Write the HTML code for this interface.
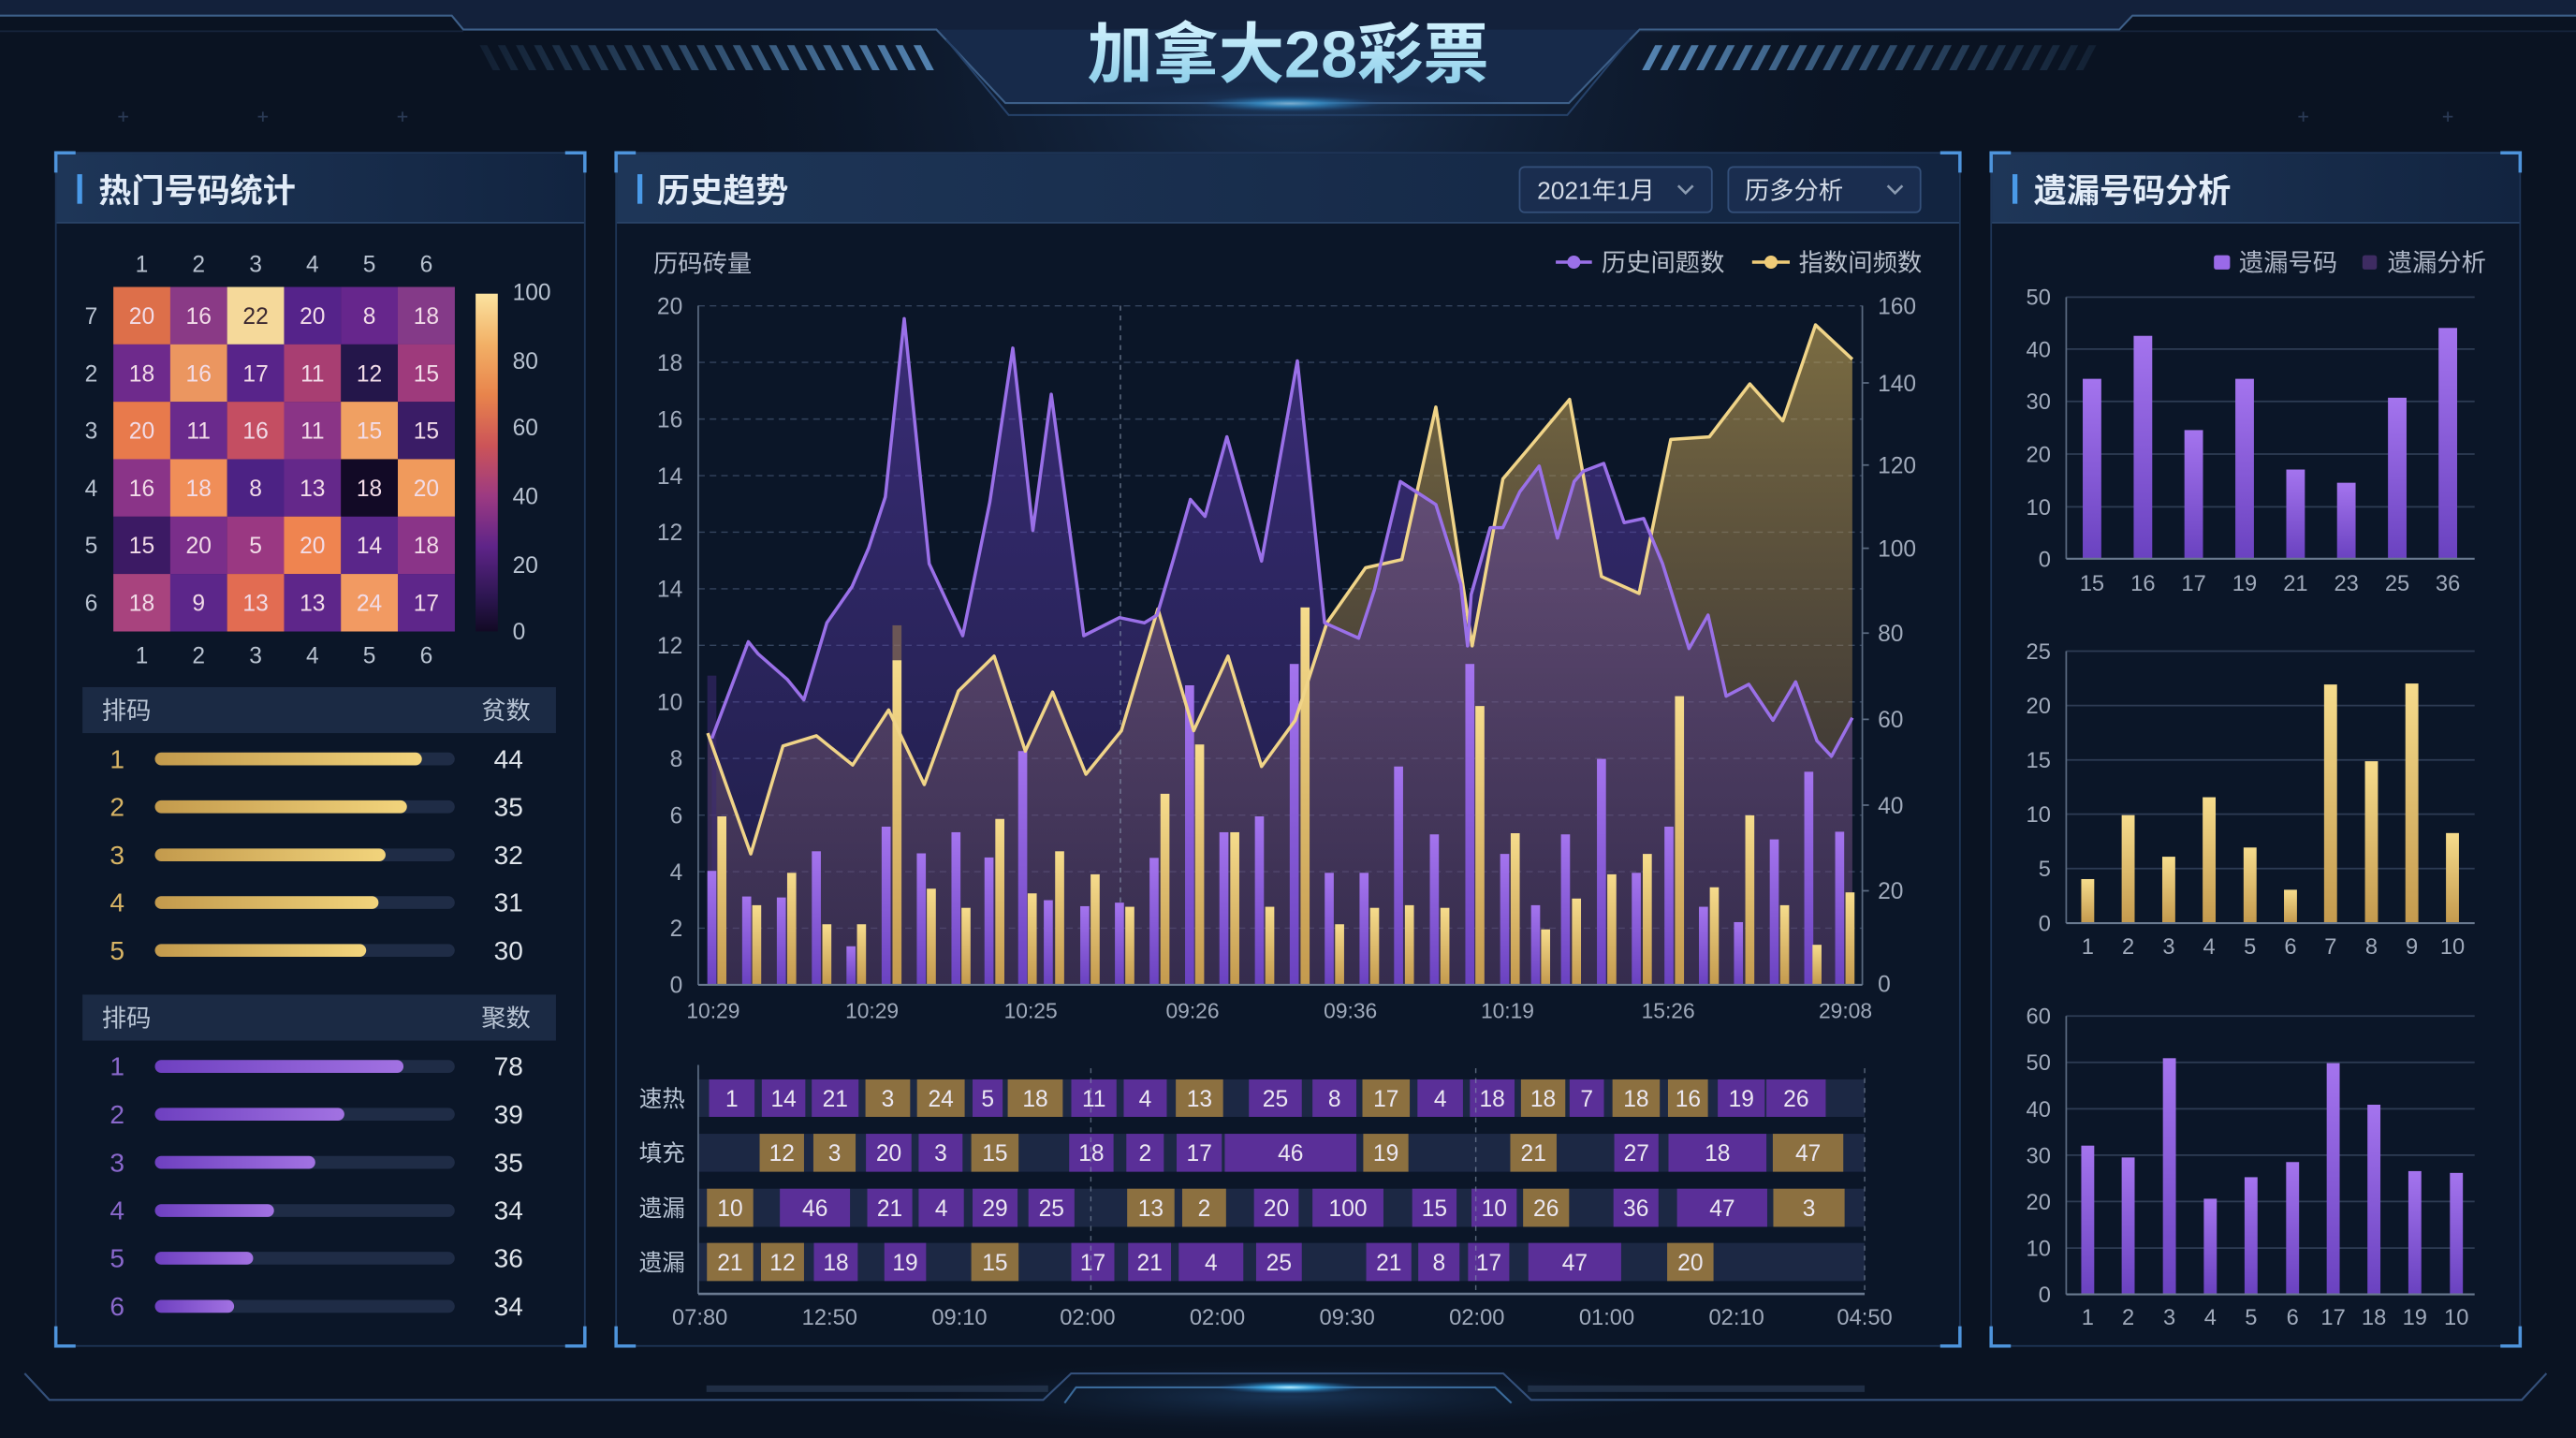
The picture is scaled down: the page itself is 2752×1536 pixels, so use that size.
<!DOCTYPE html>
<html><head><meta charset="utf-8">
<style>
html,body{margin:0;padding:0;background:#0a1322;width:2752px;height:1536px;overflow:hidden}
svg{display:block;position:absolute;left:0;top:0}
text{font-family:"Liberation Sans","Noto Sans CJK SC",sans-serif}
</style></head>
<body>
<svg width="2752" height="1536" viewBox="0 0 1568 875" preserveAspectRatio="none" xmlns="http://www.w3.org/2000/svg" overflow="hidden">
<defs>
  <radialGradient id="topGlow" cx="785" cy="30" r="420" gradientUnits="userSpaceOnUse">
    <stop offset="0" stop-color="#1d3558" stop-opacity="0.9"/>
    <stop offset="1" stop-color="#0a1322" stop-opacity="0"/>
  </radialGradient>
  <radialGradient id="cyanGlow">
    <stop offset="0" stop-color="#bff0ff"/>
    <stop offset="0.35" stop-color="#3fb4f0" stop-opacity="0.8"/>
    <stop offset="1" stop-color="#1a5a9a" stop-opacity="0"/>
  </radialGradient>
  <radialGradient id="softGlow">
    <stop offset="0" stop-color="#2a5a90" stop-opacity="0.45"/>
    <stop offset="1" stop-color="#0a1322" stop-opacity="0"/>
  </radialGradient>
  <linearGradient id="titleGrad" x1="0" y1="0" x2="0" y2="1">
    <stop offset="0" stop-color="#d6f4ff"/>
    <stop offset="1" stop-color="#86cbe8"/>
  </linearGradient>
  <linearGradient id="stripeL" x1="290" y1="0" x2="575" y2="0" gradientUnits="userSpaceOnUse">
    <stop offset="0" stop-color="#4a78a4" stop-opacity="0.12"/>
    <stop offset="1" stop-color="#5a8cbc" stop-opacity="0.95"/>
  </linearGradient>
  <linearGradient id="stripeR" x1="1280" y1="0" x2="995" y2="0" gradientUnits="userSpaceOnUse">
    <stop offset="0" stop-color="#4a78a4" stop-opacity="0.12"/>
    <stop offset="1" stop-color="#5a8cbc" stop-opacity="0.95"/>
  </linearGradient>
  <linearGradient id="barHead" x1="0" y1="0" x2="1" y2="0">
    <stop offset="0" stop-color="#1e3658"/>
    <stop offset="1" stop-color="#122440"/>
  </linearGradient>
  <linearGradient id="heatBar" x1="0" y1="0" x2="0" y2="1">
    <stop offset="0" stop-color="#fbe3a0"/>
    <stop offset="0.15" stop-color="#f2b066"/>
    <stop offset="0.3" stop-color="#e8844c"/>
    <stop offset="0.45" stop-color="#cc5458"/>
    <stop offset="0.6" stop-color="#9c3a82"/>
    <stop offset="0.75" stop-color="#5e2488"/>
    <stop offset="0.9" stop-color="#2c1650"/>
    <stop offset="1" stop-color="#120a24"/>
  </linearGradient>
  <linearGradient id="gHbar" x1="0" y1="0" x2="1" y2="0">
    <stop offset="0" stop-color="#c39a4c"/>
    <stop offset="1" stop-color="#f2d47c"/>
  </linearGradient>
  <linearGradient id="pHbar" x1="0" y1="0" x2="1" y2="0">
    <stop offset="0" stop-color="#6e40c0"/>
    <stop offset="1" stop-color="#a272e2"/>
  </linearGradient>
  <linearGradient id="gPB" x1="0" y1="0" x2="0" y2="1">
    <stop offset="0" stop-color="#a474ee"/>
    <stop offset="1" stop-color="#6a42c0"/>
  </linearGradient>
  <linearGradient id="gGB" x1="0" y1="0" x2="0" y2="1">
    <stop offset="0" stop-color="#f6dc8c"/>
    <stop offset="1" stop-color="#c49a4e"/>
  </linearGradient>
  <linearGradient id="gPF" x1="0" y1="186" x2="0" y2="599" gradientUnits="userSpaceOnUse">
    <stop offset="0" stop-color="#6a44c8" stop-opacity="0.5"/>
    <stop offset="1" stop-color="#4a3090" stop-opacity="0.3"/>
  </linearGradient>
  <linearGradient id="gGF" x1="0" y1="190" x2="0" y2="599" gradientUnits="userSpaceOnUse">
    <stop offset="0" stop-color="#c9a954" stop-opacity="0.6"/>
    <stop offset="1" stop-color="#7a5a48" stop-opacity="0.3"/>
  </linearGradient>
</defs>

<!-- background -->
<rect x="0" y="0" width="1568" height="875" fill="#0a1322"/>
<rect x="0" y="0" width="1568" height="300" fill="url(#topGlow)"/>
<ellipse cx="785" cy="850" rx="260" ry="24" fill="url(#softGlow)"/>

<!-- header -->
<polygon points="0,0 1568,0 1568,9.5 1298,9.5 1290,18 998,18 955,62.7 612,62.7 570,18 282,18 275,9.5 0,9.5" fill="#13213b"/>
<polygon points="570,18 998,18 955,62.7 612,62.7" fill="#172a4a"/>
<path d="M0,9.5 L275,9.5 L282,18 L570,18 L612,62.7 L955,62.7 L998,18 L1290,18 L1298,9.5 L1568,9.5" fill="none" stroke="#3d5f88" stroke-width="1.2"/>
<path d="M576,24 L614,70 L954,70 L992,24" fill="none" stroke="#26426a" stroke-width="1.2"/>
<path d="M0,19 L282,19" stroke="#16243c" stroke-width="1"/>
<path d="M998,19 L1568,19" stroke="#16243c" stroke-width="1"/>
<g fill="url(#stripeL)">
  <polygon points="292,27.5 296.5,27.5 304.5,42.7 300,42.7"/>
  <polygon points="303,27.5 307.5,27.5 315.5,42.7 311,42.7"/>
  <polygon points="314,27.5 318.5,27.5 326.5,42.7 322,42.7"/>
  <polygon points="325,27.5 329.5,27.5 337.5,42.7 333,42.7"/>
  <polygon points="336,27.5 340.5,27.5 348.5,42.7 344,42.7"/>
  <polygon points="347,27.5 351.5,27.5 359.5,42.7 355,42.7"/>
  <polygon points="358,27.5 362.5,27.5 370.5,42.7 366,42.7"/>
  <polygon points="369,27.5 373.5,27.5 381.5,42.7 377,42.7"/>
  <polygon points="380,27.5 384.5,27.5 392.5,42.7 388,42.7"/>
  <polygon points="391,27.5 395.5,27.5 403.5,42.7 399,42.7"/>
  <polygon points="402,27.5 406.5,27.5 414.5,42.7 410,42.7"/>
  <polygon points="413,27.5 417.5,27.5 425.5,42.7 421,42.7"/>
  <polygon points="424,27.5 428.5,27.5 436.5,42.7 432,42.7"/>
  <polygon points="435,27.5 439.5,27.5 447.5,42.7 443,42.7"/>
  <polygon points="446,27.5 450.5,27.5 458.5,42.7 454,42.7"/>
  <polygon points="457,27.5 461.5,27.5 469.5,42.7 465,42.7"/>
  <polygon points="468,27.5 472.5,27.5 480.5,42.7 476,42.7"/>
  <polygon points="479,27.5 483.5,27.5 491.5,42.7 487,42.7"/>
  <polygon points="490,27.5 494.5,27.5 502.5,42.7 498,42.7"/>
  <polygon points="501,27.5 505.5,27.5 513.5,42.7 509,42.7"/>
  <polygon points="512,27.5 516.5,27.5 524.5,42.7 520,42.7"/>
  <polygon points="523,27.5 527.5,27.5 535.5,42.7 531,42.7"/>
  <polygon points="534,27.5 538.5,27.5 546.5,42.7 542,42.7"/>
  <polygon points="545,27.5 549.5,27.5 557.5,42.7 553,42.7"/>
  <polygon points="556,27.5 560.5,27.5 568.5,42.7 564,42.7"/>
</g>
<g fill="url(#stripeR)">
  <polygon points="1007.5,27.5 1012,27.5 1004,42.7 999.5,42.7"/>
  <polygon points="1018.5,27.5 1023,27.5 1015,42.7 1010.5,42.7"/>
  <polygon points="1029.5,27.5 1034,27.5 1026,42.7 1021.5,42.7"/>
  <polygon points="1040.5,27.5 1045,27.5 1037,42.7 1032.5,42.7"/>
  <polygon points="1051.5,27.5 1056,27.5 1048,42.7 1043.5,42.7"/>
  <polygon points="1062.5,27.5 1067,27.5 1059,42.7 1054.5,42.7"/>
  <polygon points="1073.5,27.5 1078,27.5 1070,42.7 1065.5,42.7"/>
  <polygon points="1084.5,27.5 1089,27.5 1081,42.7 1076.5,42.7"/>
  <polygon points="1095.5,27.5 1100,27.5 1092,42.7 1087.5,42.7"/>
  <polygon points="1106.5,27.5 1111,27.5 1103,42.7 1098.5,42.7"/>
  <polygon points="1117.5,27.5 1122,27.5 1114,42.7 1109.5,42.7"/>
  <polygon points="1128.5,27.5 1133,27.5 1125,42.7 1120.5,42.7"/>
  <polygon points="1139.5,27.5 1144,27.5 1136,42.7 1131.5,42.7"/>
  <polygon points="1150.5,27.5 1155,27.5 1147,42.7 1142.5,42.7"/>
  <polygon points="1161.5,27.5 1166,27.5 1158,42.7 1153.5,42.7"/>
  <polygon points="1172.5,27.5 1177,27.5 1169,42.7 1164.5,42.7"/>
  <polygon points="1183.5,27.5 1188,27.5 1180,42.7 1175.5,42.7"/>
  <polygon points="1194.5,27.5 1199,27.5 1191,42.7 1186.5,42.7"/>
  <polygon points="1205.5,27.5 1210,27.5 1202,42.7 1197.5,42.7"/>
  <polygon points="1216.5,27.5 1221,27.5 1213,42.7 1208.5,42.7"/>
  <polygon points="1227.5,27.5 1232,27.5 1224,42.7 1219.5,42.7"/>
  <polygon points="1238.5,27.5 1243,27.5 1235,42.7 1230.5,42.7"/>
  <polygon points="1249.5,27.5 1254,27.5 1246,42.7 1241.5,42.7"/>
  <polygon points="1260.5,27.5 1265,27.5 1257,42.7 1252.5,42.7"/>
  <polygon points="1271.5,27.5 1276,27.5 1268,42.7 1263.5,42.7"/>
</g>
<ellipse cx="785" cy="63" rx="55" ry="5" fill="url(#cyanGlow)"/>
<ellipse cx="785" cy="63" rx="140" ry="14" fill="url(#softGlow)"/>
<text x="784" y="47" font-size="40" font-weight="bold" fill="url(#titleGrad)" text-anchor="middle">加拿大28彩票</text>
<g stroke="#2a3a55" stroke-width="1">
  <path d="M72,71 h6 M75,68 v6"/><path d="M157,71 h6 M160,68 v6"/><path d="M242,71 h6 M245,68 v6"/>
  <path d="M1399,71 h6 M1402,68 v6"/><path d="M1487,71 h6 M1490,68 v6"/>
</g>

<!-- panels -->
<g>
  <rect x="34" y="93" width="322" height="726" fill="#0b1628" stroke="#1f3658" stroke-width="1"/>
  <rect x="34.5" y="93.5" width="321" height="42" fill="url(#barHead)"/>
  <line x1="34.5" y1="135.5" x2="355.5" y2="135.5" stroke="#2a4468"/>
  <rect x="375" y="93" width="818" height="726" fill="#0b1628" stroke="#1f3658" stroke-width="1"/>
  <rect x="375.5" y="93.5" width="817" height="42" fill="url(#barHead)"/>
  <line x1="375.5" y1="135.5" x2="1192.5" y2="135.5" stroke="#2a4468"/>
  <rect x="1212" y="93" width="322" height="726" fill="#0b1628" stroke="#1f3658" stroke-width="1"/>
  <rect x="1212.5" y="93.5" width="321" height="42" fill="url(#barHead)"/>
  <line x1="1212.5" y1="135.5" x2="1533.5" y2="135.5" stroke="#2a4468"/>
  <g fill="none" stroke="#4e94dc" stroke-width="2">
    <path d="M34,105 V93 H46 M344,93 H356 V105 M34,807 V819 H46 M344,819 H356 V807"/>
    <path d="M375,105 V93 H387 M1181,93 H1193 V105 M375,807 V819 H387 M1181,819 H1193 V807"/>
    <path d="M1212,105 V93 H1224 M1522,93 H1534 V105 M1212,807 V819 H1224 M1522,819 H1534 V807"/>
  </g>
  <rect x="47" y="106" width="3" height="18" fill="#4a9ae8"/>
  <rect x="388" y="106" width="3" height="18" fill="#4a9ae8"/>
  <rect x="1225" y="106" width="3" height="18" fill="#4a9ae8"/>
  <text x="60" y="123" font-size="20" font-weight="bold" fill="#e2ecf8">热门号码统计</text>
  <text x="400" y="123" font-size="20" font-weight="bold" fill="#e2ecf8">历史趋势</text>
  <text x="1238" y="123" font-size="20" font-weight="bold" fill="#e2ecf8">遗漏号码分析</text>
  <!-- dropdowns -->
  <rect x="925" y="101.6" width="117" height="27.6" rx="3" fill="#1a2d4f" stroke="#34507a"/>
  <text x="935.6" y="121" font-size="15" fill="#d4dce8">2021年1月</text>
  <path d="M1021.5,113 L1026,117.5 L1030.5,113" fill="none" stroke="#8a9ab0" stroke-width="1.5"/>
  <rect x="1052" y="101.6" width="117" height="27.6" rx="3" fill="#1a2d4f" stroke="#34507a"/>
  <text x="1062" y="121" font-size="15" fill="#d4dce8">历多分析</text>
  <path d="M1149,113 L1153.5,117.5 L1158,113" fill="none" stroke="#8a9ab0" stroke-width="1.5"/>
</g>

<!-- heatmap -->
<g font-size="14" fill="#b8c2d0" text-anchor="middle">
  <text x="86.3" y="165.5">1</text><text x="120.9" y="165.5">2</text><text x="155.6" y="165.5">3</text><text x="190.2" y="165.5">4</text><text x="224.8" y="165.5">5</text><text x="259.5" y="165.5">6</text>
  <text x="86.3" y="403.5">1</text><text x="120.9" y="403.5">2</text><text x="155.6" y="403.5">3</text><text x="190.2" y="403.5">4</text><text x="224.8" y="403.5">5</text><text x="259.5" y="403.5">6</text>
  <text x="55.5" y="197.1">7</text><text x="55.5" y="232">2</text><text x="55.5" y="266.9">3</text><text x="55.5" y="301.9">4</text><text x="55.5" y="336.8">5</text><text x="55.5" y="371.7">6</text>
</g>
<g>
  <rect x="69" y="174.6" width="34.7" height="35" fill="#dd6f4a"/>
  <rect x="103.63" y="174.6" width="34.7" height="35" fill="#8a3a86"/>
  <rect x="138.26" y="174.6" width="34.7" height="35" fill="#f5d99a"/>
  <rect x="172.89" y="174.6" width="34.7" height="35" fill="#55238a"/>
  <rect x="207.52" y="174.6" width="34.7" height="35" fill="#66268c"/>
  <rect x="242.15" y="174.6" width="34.7" height="35" fill="#843a88"/>

  <rect x="69" y="209.53" width="34.7" height="35" fill="#6e2a8c"/>
  <rect x="103.63" y="209.53" width="34.7" height="35" fill="#eb9660"/>
  <rect x="138.26" y="209.53" width="34.7" height="35" fill="#58248a"/>
  <rect x="172.89" y="209.53" width="34.7" height="35" fill="#a83e72"/>
  <rect x="207.52" y="209.53" width="34.7" height="35" fill="#24164a"/>
  <rect x="242.15" y="209.53" width="34.7" height="35" fill="#9e3a7c"/>

  <rect x="69" y="244.46" width="34.7" height="35" fill="#e87a4c"/>
  <rect x="103.63" y="244.46" width="34.7" height="35" fill="#6a2a8c"/>
  <rect x="138.26" y="244.46" width="34.7" height="35" fill="#c44e62"/>
  <rect x="172.89" y="244.46" width="34.7" height="35" fill="#8a3486"/>
  <rect x="207.52" y="244.46" width="34.7" height="35" fill="#f0a062"/>
  <rect x="242.15" y="244.46" width="34.7" height="35" fill="#3a1c66"/>

  <rect x="69" y="279.39" width="34.7" height="35" fill="#8a3488"/>
  <rect x="103.63" y="279.39" width="34.7" height="35" fill="#f08e58"/>
  <rect x="138.26" y="279.39" width="34.7" height="35" fill="#4c2284"/>
  <rect x="172.89" y="279.39" width="34.7" height="35" fill="#64288a"/>
  <rect x="207.52" y="279.39" width="34.7" height="35" fill="#120a26"/>
  <rect x="242.15" y="279.39" width="34.7" height="35" fill="#f09a5c"/>

  <rect x="69" y="314.32" width="34.7" height="35" fill="#3c1a64"/>
  <rect x="103.63" y="314.32" width="34.7" height="35" fill="#7a2e8a"/>
  <rect x="138.26" y="314.32" width="34.7" height="35" fill="#9a3882"/>
  <rect x="172.89" y="314.32" width="34.7" height="35" fill="#ef8450"/>
  <rect x="207.52" y="314.32" width="34.7" height="35" fill="#5a268a"/>
  <rect x="242.15" y="314.32" width="34.7" height="35" fill="#8a3488"/>

  <rect x="69" y="349.25" width="34.7" height="35" fill="#a8437e"/>
  <rect x="103.63" y="349.25" width="34.7" height="35" fill="#5c268a"/>
  <rect x="138.26" y="349.25" width="34.7" height="35" fill="#e26c52"/>
  <rect x="172.89" y="349.25" width="34.7" height="35" fill="#5e268a"/>
  <rect x="207.52" y="349.25" width="34.7" height="35" fill="#f29a62"/>
  <rect x="242.15" y="349.25" width="34.7" height="35" fill="#5e268a"/>
</g>
<g font-size="14" fill="#f2dce8" text-anchor="middle">
  <text x="86.3" y="197.1">20</text><text x="120.9" y="197.1">16</text><text x="155.6" y="197.1" fill="#3a2830">22</text><text x="190.2" y="197.1">20</text><text x="224.8" y="197.1">8</text><text x="259.5" y="197.1">18</text>
  <text x="86.3" y="232">18</text><text x="120.9" y="232">16</text><text x="155.6" y="232">17</text><text x="190.2" y="232">11</text><text x="224.8" y="232">12</text><text x="259.5" y="232">15</text>
  <text x="86.3" y="266.9">20</text><text x="120.9" y="266.9">11</text><text x="155.6" y="266.9">16</text><text x="190.2" y="266.9">11</text><text x="224.8" y="266.9">15</text><text x="259.5" y="266.9">15</text>
  <text x="86.3" y="301.9">16</text><text x="120.9" y="301.9">18</text><text x="155.6" y="301.9">8</text><text x="190.2" y="301.9">13</text><text x="224.8" y="301.9">18</text><text x="259.5" y="301.9">20</text>
  <text x="86.3" y="336.8">15</text><text x="120.9" y="336.8">20</text><text x="155.6" y="336.8">5</text><text x="190.2" y="336.8">20</text><text x="224.8" y="336.8">14</text><text x="259.5" y="336.8">18</text>
  <text x="86.3" y="371.7">18</text><text x="120.9" y="371.7">9</text><text x="155.6" y="371.7">13</text><text x="190.2" y="371.7">13</text><text x="224.8" y="371.7">24</text><text x="259.5" y="371.7">17</text>
</g>
<rect x="289.5" y="178.7" width="13.5" height="205.5" fill="url(#heatBar)"/>
<g font-size="14" fill="#b8c2d0">
  <text x="312" y="182.7">100</text><text x="312" y="224.4">80</text><text x="312" y="265">60</text><text x="312" y="306.8">40</text><text x="312" y="348.5">20</text><text x="312" y="389.2">0</text>
</g>

<!-- left lists -->
<rect x="50.2" y="418.1" width="288.2" height="28" fill="#1b2a44"/>
<text x="62" y="437.5" font-size="15" fill="#b8c4d4">排码</text>
<text x="293" y="437.5" font-size="15" fill="#b8c4d4">贫数</text>
<g font-size="16" text-anchor="middle">
  <text x="71.3" y="467.3" fill="#d9b565">1</text>
  <text x="71.3" y="496.4" fill="#d9b565">2</text>
  <text x="71.3" y="525.7" fill="#d9b565">3</text>
  <text x="71.3" y="554.7" fill="#d9b565">4</text>
  <text x="71.3" y="583.8" fill="#d9b565">5</text>
  <text x="309.5" y="467.3" fill="#dfe4ea">44</text>
  <text x="309.5" y="496.4" fill="#dfe4ea">35</text>
  <text x="309.5" y="525.7" fill="#dfe4ea">32</text>
  <text x="309.5" y="554.7" fill="#dfe4ea">31</text>
  <text x="309.5" y="583.8" fill="#dfe4ea">30</text>
</g>
<g fill="#1f2c46">
  <rect x="94.3" y="457.9" width="182.5" height="7.8" rx="3.9"/>
  <rect x="94.3" y="487" width="182.5" height="7.8" rx="3.9"/>
  <rect x="94.3" y="516.3" width="182.5" height="7.8" rx="3.9"/>
  <rect x="94.3" y="545.3" width="182.5" height="7.8" rx="3.9"/>
  <rect x="94.3" y="574.4" width="182.5" height="7.8" rx="3.9"/>
</g>
<g fill="url(#gHbar)">
  <rect x="94.3" y="457.9" width="162.5" height="7.8" rx="3.9"/>
  <rect x="94.3" y="487" width="153.4" height="7.8" rx="3.9"/>
  <rect x="94.3" y="516.3" width="140.4" height="7.8" rx="3.9"/>
  <rect x="94.3" y="545.3" width="136.1" height="7.8" rx="3.9"/>
  <rect x="94.3" y="574.4" width="128.6" height="7.8" rx="3.9"/>
</g>

<rect x="50.2" y="605.2" width="288.2" height="28" fill="#1b2a44"/>
<text x="62" y="624.6" font-size="15" fill="#b8c4d4">排码</text>
<text x="293" y="624.6" font-size="15" fill="#b8c4d4">聚数</text>
<g font-size="16" text-anchor="middle">
  <text x="71.3" y="654.4" fill="#8a68cc">1</text>
  <text x="71.3" y="683.5" fill="#8a68cc">2</text>
  <text x="71.3" y="712.8" fill="#8a68cc">3</text>
  <text x="71.3" y="742.1" fill="#8a68cc">4</text>
  <text x="71.3" y="771.1" fill="#8a68cc">5</text>
  <text x="71.3" y="800.4" fill="#8a68cc">6</text>
  <text x="309.5" y="654.4" fill="#dfe4ea">78</text>
  <text x="309.5" y="683.5" fill="#dfe4ea">39</text>
  <text x="309.5" y="712.8" fill="#dfe4ea">35</text>
  <text x="309.5" y="742.1" fill="#dfe4ea">34</text>
  <text x="309.5" y="771.1" fill="#dfe4ea">36</text>
  <text x="309.5" y="800.4" fill="#dfe4ea">34</text>
</g>
<g fill="#1f2c46">
  <rect x="94.3" y="645" width="182.5" height="7.8" rx="3.9"/>
  <rect x="94.3" y="674.1" width="182.5" height="7.8" rx="3.9"/>
  <rect x="94.3" y="703.4" width="182.5" height="7.8" rx="3.9"/>
  <rect x="94.3" y="732.7" width="182.5" height="7.8" rx="3.9"/>
  <rect x="94.3" y="761.7" width="182.5" height="7.8" rx="3.9"/>
  <rect x="94.3" y="791" width="182.5" height="7.8" rx="3.9"/>
</g>
<g fill="url(#pHbar)">
  <rect x="94.3" y="645" width="151.3" height="7.8" rx="3.9"/>
  <rect x="94.3" y="674.1" width="115.3" height="7.8" rx="3.9"/>
  <rect x="94.3" y="703.4" width="97.6" height="7.8" rx="3.9"/>
  <rect x="94.3" y="732.7" width="72.5" height="7.8" rx="3.9"/>
  <rect x="94.3" y="761.7" width="59.8" height="7.8" rx="3.9"/>
  <rect x="94.3" y="791" width="48.2" height="7.8" rx="3.9"/>
</g>

<!-- center chart -->
<text x="397.7" y="165.5" font-size="15" fill="#b0b8c8">历码砖量</text>
<line x1="947" y1="159.5" x2="969" y2="159.5" stroke="#9a70e8" stroke-width="2"/>
<circle cx="958" cy="159.5" r="4" fill="#9a70e8"/>
<text x="974.8" y="165" font-size="15" fill="#b8c0cc">历史间题数</text>
<line x1="1066.5" y1="159.5" x2="1089.4" y2="159.5" stroke="#f0cc78" stroke-width="2"/>
<circle cx="1078" cy="159.5" r="4" fill="#f0cc78"/>
<text x="1094.9" y="165" font-size="15" fill="#b8c0cc">指数间频数</text>

<g stroke="#34445e" stroke-width="0.8" stroke-dasharray="4 3">
  <line x1="425" y1="186.1" x2="1133.6" y2="186.1"/>
  <line x1="425" y1="220.5" x2="1133.6" y2="220.5"/>
  <line x1="425" y1="255" x2="1133.6" y2="255"/>
  <line x1="425" y1="289.4" x2="1133.6" y2="289.4"/>
  <line x1="425" y1="323.8" x2="1133.6" y2="323.8"/>
  <line x1="425" y1="358.3" x2="1133.6" y2="358.3"/>
  <line x1="425" y1="392.7" x2="1133.6" y2="392.7"/>
  <line x1="425" y1="427.1" x2="1133.6" y2="427.1"/>
  <line x1="425" y1="461.5" x2="1133.6" y2="461.5"/>
  <line x1="425" y1="496" x2="1133.6" y2="496"/>
  <line x1="425" y1="530.4" x2="1133.6" y2="530.4"/>
  <line x1="425" y1="564.8" x2="1133.6" y2="564.8"/>
</g>
<g font-size="14" fill="#a0aabb" text-anchor="end">
  <text x="415.5" y="191.1">20</text><text x="415.5" y="225.5">18</text><text x="415.5" y="260">16</text><text x="415.5" y="294.4">14</text><text x="415.5" y="328.8">12</text><text x="415.5" y="363.3">14</text><text x="415.5" y="397.7">12</text><text x="415.5" y="432.1">10</text><text x="415.5" y="466.5">8</text><text x="415.5" y="501">6</text><text x="415.5" y="535.4">4</text><text x="415.5" y="569.8">2</text><text x="415.5" y="604.2">0</text>
</g>
<g font-size="14" fill="#a0aabb">
  <text x="1143" y="191.1">160</text><text x="1143" y="238">140</text><text x="1143" y="288">120</text><text x="1143" y="338.6">100</text><text x="1143" y="390.2">80</text><text x="1143" y="442.7">60</text><text x="1143" y="494.9">40</text><text x="1143" y="547">20</text><text x="1143" y="603.6">0</text>
</g>
<g stroke="#5a6a80" stroke-width="1">
  <path d="M1133.6,233 h4 M1133.6,283 h4 M1133.6,333.6 h4 M1133.6,385.2 h4 M1133.6,437.7 h4 M1133.6,489.9 h4 M1133.6,542 h4"/>
</g>

<polygon fill="url(#gGF)" points="430.8,446.1 457,519.6 476.6,453.9 496.9,447.7 519,465.5 540.9,432 562.6,477.4 583.4,420.5 605.1,399.25 624.1,457 640.7,421.1 661,471.1 682.6,444.6 704.8,370.5 726.6,444.6 747.5,399.25 767.9,466.4 788.4,438.3 807.7,379 831.2,345.5 853.3,340.5 874,247.7 896.1,393 914.8,291.4 932,271.1 955.4,243 974.8,350.8 997.7,361.1 1017,267.4 1040.5,265.8 1065.1,233.6 1085.2,256.1 1105.1,197.7 1127.5,218.6 1127.5,599.25 430.8,599.25"/>
<polygon fill="url(#gPF)" points="433.3,449.3 455.5,390.5 461.3,397.7 479.1,413.3 489.3,425.8 503.3,379 518.6,357 528.7,333.6 538.9,302.4 550.4,193.9 565.6,343 586,386.8 602.5,305.5 616.5,211.8 628.7,322.7 639.9,239.9 659.7,386.8 681.4,375.8 696.6,379 704.3,374.3 714.4,339.9 724.6,303.9 733.5,314.2 746.8,265.8 767.9,341.4 789.7,219.6 806.3,379 827,388.3 836.7,358.6 852.4,293 874,307 889.2,355.5 893.3,393 895.5,361.75 907.1,321.1 914.8,321.1 925.1,299.25 936.9,283.6 948,327.4 958.2,293 963.7,286.75 976.2,282 988.6,318 1000.5,315.5 1012,343 1028.1,394.6 1039.7,374.25 1050.7,423.6 1064.5,416.4 1079.2,438.3 1093,414.9 1106,450.8 1114.8,460.2 1127.5,436.75 1127.5,599.25 433.3,599.25"/>

<line x1="682" y1="186" x2="682" y2="599" stroke="#8a9ab0" stroke-width="0.8" stroke-dasharray="3 3" opacity="0.7"/>

<rect x="430.55" y="411.1" width="5.5" height="118.8" fill="#3a2a70" opacity="0.6"/>
<rect x="543.25" y="380.5" width="5.5" height="21.25" fill="#a08050" opacity="0.55"/>
<g fill="url(#gPB)">
  <rect x="430.55" y="529.9" width="5.5" height="69.35"/>
  <rect x="451.75" y="545.5" width="5.5" height="53.75"/>
  <rect x="472.85" y="546.1" width="5.5" height="53.15"/>
  <rect x="494.15" y="518" width="5.5" height="81.25"/>
  <rect x="515.25" y="575.8" width="5.5" height="23.45"/>
  <rect x="536.65" y="503" width="5.5" height="96.25"/>
  <rect x="558.05" y="519.25" width="5.5" height="80"/>
  <rect x="579.15" y="506.4" width="5.5" height="92.85"/>
  <rect x="599.25" y="521.75" width="5.5" height="77.5"/>
  <rect x="619.75" y="457" width="5.5" height="142.25"/>
  <rect x="635.35" y="547.75" width="5.5" height="51.5"/>
  <rect x="657.55" y="551.4" width="5.5" height="47.85"/>
  <rect x="678.65" y="549.25" width="5.5" height="50"/>
  <rect x="699.75" y="522" width="5.5" height="77.25"/>
  <rect x="721.35" y="417" width="5.5" height="182.25"/>
  <rect x="742.25" y="506.4" width="5.5" height="92.85"/>
  <rect x="763.85" y="496.75" width="5.5" height="102.5"/>
  <rect x="785.05" y="404" width="5.5" height="195.25"/>
  <rect x="806.35" y="531.1" width="5.5" height="68.15"/>
  <rect x="827.55" y="531.1" width="5.5" height="68.15"/>
  <rect x="848.55" y="466.4" width="5.5" height="132.85"/>
  <rect x="870.35" y="507.7" width="5.5" height="91.55"/>
  <rect x="891.95" y="404" width="5.5" height="195.25"/>
  <rect x="913.15" y="519.6" width="5.5" height="79.65"/>
  <rect x="931.95" y="550.8" width="5.5" height="48.45"/>
  <rect x="950.15" y="507.7" width="5.5" height="91.55"/>
  <rect x="972.05" y="461.75" width="5.5" height="137.5"/>
  <rect x="993.25" y="531.1" width="5.5" height="68.15"/>
  <rect x="1013.15" y="503" width="5.5" height="96.25"/>
  <rect x="1034.15" y="551.75" width="5.5" height="47.5"/>
  <rect x="1055.45" y="561.1" width="5.5" height="38.15"/>
  <rect x="1077.25" y="510.75" width="5.5" height="88.5"/>
  <rect x="1098.25" y="469.6" width="5.5" height="129.65"/>
  <rect x="1117.05" y="506.1" width="5.5" height="93.15"/>
</g>
<g fill="url(#gGB)">
  <rect x="436.65" y="496.75" width="5.5" height="102.5"/>
  <rect x="457.85" y="550.8" width="5.5" height="48.45"/>
  <rect x="479.15" y="531.1" width="5.5" height="68.15"/>
  <rect x="500.55" y="562.4" width="5.5" height="36.85"/>
  <rect x="521.65" y="562.4" width="5.5" height="36.85"/>
  <rect x="543.25" y="401.75" width="5.5" height="197.5"/>
  <rect x="564.15" y="540.75" width="5.5" height="58.5"/>
  <rect x="585.25" y="552.4" width="5.5" height="46.85"/>
  <rect x="605.85" y="498.3" width="5.5" height="100.95"/>
  <rect x="625.55" y="543.6" width="5.5" height="55.65"/>
  <rect x="642.25" y="518" width="5.5" height="81.25"/>
  <rect x="663.85" y="532" width="5.5" height="67.25"/>
  <rect x="684.95" y="551.75" width="5.5" height="47.5"/>
  <rect x="706.35" y="483" width="5.5" height="116.25"/>
  <rect x="727.45" y="453" width="5.5" height="146.25"/>
  <rect x="748.85" y="506.4" width="5.5" height="92.85"/>
  <rect x="770.15" y="551.75" width="5.5" height="47.5"/>
  <rect x="791.65" y="369.6" width="5.5" height="229.65"/>
  <rect x="812.65" y="562.4" width="5.5" height="36.85"/>
  <rect x="833.95" y="552.4" width="5.5" height="46.85"/>
  <rect x="855.15" y="550.8" width="5.5" height="48.45"/>
  <rect x="876.75" y="552.4" width="5.5" height="46.85"/>
  <rect x="898.05" y="429.6" width="5.5" height="169.65"/>
  <rect x="919.55" y="507" width="5.5" height="92.25"/>
  <rect x="938.05" y="565.5" width="5.5" height="33.75"/>
  <rect x="956.85" y="546.75" width="5.5" height="52.5"/>
  <rect x="978.35" y="532" width="5.5" height="67.25"/>
  <rect x="999.95" y="519.6" width="5.5" height="79.65"/>
  <rect x="1019.55" y="423.6" width="5.5" height="175.65"/>
  <rect x="1040.75" y="539.9" width="5.5" height="59.35"/>
  <rect x="1062.35" y="496.1" width="5.5" height="103.15"/>
  <rect x="1083.55" y="550.8" width="5.5" height="48.45"/>
  <rect x="1103.25" y="574.9" width="5.5" height="24.35"/>
  <rect x="1123.35" y="543" width="5.5" height="56.25"/>
</g>

<polyline fill="none" stroke="#f0d488" stroke-width="2" stroke-linejoin="round" points="430.8,446.1 457,519.6 476.6,453.9 496.9,447.7 519,465.5 540.9,432 562.6,477.4 583.4,420.5 605.1,399.25 624.1,457 640.7,421.1 661,471.1 682.6,444.6 704.8,370.5 726.6,444.6 747.5,399.25 767.9,466.4 788.4,438.3 807.7,379 831.2,345.5 853.3,340.5 874,247.7 896.1,393 914.8,291.4 932,271.1 955.4,243 974.8,350.8 997.7,361.1 1017,267.4 1040.5,265.8 1065.1,233.6 1085.2,256.1 1105.1,197.7 1127.5,218.6"/>
<polyline fill="none" stroke="#9a70e8" stroke-width="2" stroke-linejoin="round" points="433.3,449.3 455.5,390.5 461.3,397.7 479.1,413.3 489.3,425.8 503.3,379 518.6,357 528.7,333.6 538.9,302.4 550.4,193.9 565.6,343 586,386.8 602.5,305.5 616.5,211.8 628.7,322.7 639.9,239.9 659.7,386.8 681.4,375.8 696.6,379 704.3,374.3 714.4,339.9 724.6,303.9 733.5,314.2 746.8,265.8 767.9,341.4 789.7,219.6 806.3,379 827,388.3 836.7,358.6 852.4,293 874,307 889.2,355.5 893.3,393 895.5,361.75 907.1,321.1 914.8,321.1 925.1,299.25 936.9,283.6 948,327.4 958.2,293 963.7,286.75 976.2,282 988.6,318 1000.5,315.5 1012,343 1028.1,394.6 1039.7,374.25 1050.7,423.6 1064.5,416.4 1079.2,438.3 1093,414.9 1106,450.8 1114.8,460.2 1127.5,436.75"/>

<line x1="425" y1="186" x2="425" y2="599.25" stroke="#5a6a80" stroke-width="1"/>
<line x1="1133.6" y1="186" x2="1133.6" y2="599.25" stroke="#5a6a80" stroke-width="1"/>
<line x1="425" y1="599.25" x2="1133.6" y2="599.25" stroke="#6a7a90" stroke-width="1.2"/>
<g font-size="13" fill="#a0aabb" text-anchor="middle">
  <text x="434.1" y="619.5">10:29</text><text x="530.8" y="619.5">10:29</text><text x="627.4" y="619.5">10:25</text><text x="725.9" y="619.5">09:26</text><text x="822" y="619.5">09:36</text><text x="917.6" y="619.5">10:19</text><text x="1015.4" y="619.5">15:26</text><text x="1123.3" y="619.5">29:08</text>
</g>

<!-- table -->
<g fill="#1c2844">
  <rect x="425" y="656.8" width="710" height="22.8"/>
  <rect x="425" y="689.9" width="710" height="23.1"/>
  <rect x="425" y="723.3" width="710" height="23.2"/>
  <rect x="425" y="756.3" width="710" height="23.2"/>
</g>
<g font-size="14" fill="#b8c4d4" text-anchor="middle">
  <text x="403" y="673.2">速热</text><text x="403" y="706.5">填充</text><text x="403" y="740">遗漏</text><text x="403" y="773">遗漏</text>
</g>
<g fill="#5a2f98">
  <rect x="431.6" y="656.8" width="27.7" height="22.8"/><rect x="463.7" y="656.8" width="26.5" height="22.8"/><rect x="494.1" y="656.8" width="28.5" height="22.8"/><rect x="592" y="656.8" width="18.3" height="22.8"/><rect x="652.1" y="656.8" width="27.5" height="22.8"/><rect x="684" y="656.8" width="26.2" height="22.8"/><rect x="760.2" y="656.8" width="32.2" height="22.8"/><rect x="798.9" y="656.8" width="26.7" height="22.8"/><rect x="862.8" y="656.8" width="27.7" height="22.8"/><rect x="894.7" y="656.8" width="27.2" height="22.8"/><rect x="955.4" y="656.8" width="20.9" height="22.8"/><rect x="1045.6" y="656.8" width="28.6" height="22.8"/><rect x="1075.2" y="656.8" width="36.1" height="22.8"/>
  <rect x="527.1" y="689.9" width="27.7" height="23.1"/><rect x="559.2" y="689.9" width="26.7" height="23.1"/><rect x="650.8" y="689.9" width="27" height="23.1"/><rect x="685.6" y="689.9" width="22.8" height="23.1"/><rect x="716.2" y="689.9" width="27.5" height="23.1"/><rect x="745.5" y="689.9" width="80.1" height="23.1"/><rect x="982.6" y="689.9" width="26.9" height="23.1"/><rect x="1015.6" y="689.9" width="59.6" height="23.1"/>
  <rect x="474.7" y="723.3" width="42.7" height="23.2"/><rect x="527.9" y="723.3" width="27.4" height="23.2"/><rect x="559.2" y="723.3" width="27.5" height="23.2"/><rect x="592" y="723.3" width="27.4" height="23.2"/><rect x="626" y="723.3" width="28" height="23.2"/><rect x="763.3" y="723.3" width="27.2" height="23.2"/><rect x="798.9" y="723.3" width="43.2" height="23.2"/><rect x="859.6" y="723.3" width="27" height="23.2"/><rect x="895.7" y="723.3" width="27.5" height="23.2"/><rect x="982.1" y="723.3" width="27.4" height="23.2"/><rect x="1020.8" y="723.3" width="54.9" height="23.2"/>
  <rect x="495.4" y="756.3" width="26.7" height="23.2"/><rect x="538.3" y="756.3" width="25.4" height="23.2"/><rect x="652.1" y="756.3" width="26.2" height="23.2"/><rect x="686.7" y="756.3" width="26.1" height="23.2"/><rect x="717.5" y="756.3" width="39.3" height="23.2"/><rect x="764.6" y="756.3" width="27.8" height="23.2"/><rect x="831.6" y="756.3" width="27.5" height="23.2"/><rect x="863.3" y="756.3" width="25.1" height="23.2"/><rect x="893.6" y="756.3" width="25.1" height="23.2"/><rect x="930.3" y="756.3" width="56.5" height="23.2"/>
</g>
<g fill="#8c7040">
  <rect x="526.8" y="656.8" width="27.2" height="22.8"/><rect x="558.2" y="656.8" width="29" height="22.8"/><rect x="613.4" y="656.8" width="33.5" height="22.8"/><rect x="715.7" y="656.8" width="28.8" height="22.8"/><rect x="829.3" y="656.8" width="28.8" height="22.8"/><rect x="925.8" y="656.8" width="27" height="22.8"/><rect x="981.5" y="656.8" width="28.8" height="22.8"/><rect x="1015.3" y="656.8" width="24.3" height="22.8"/>
  <rect x="462.4" y="689.9" width="27" height="23.1"/><rect x="495.1" y="689.9" width="25.7" height="23.1"/><rect x="591.2" y="689.9" width="28.8" height="23.1"/><rect x="829.8" y="689.9" width="27.5" height="23.1"/><rect x="919.3" y="689.9" width="28.2" height="23.1"/><rect x="1079.1" y="689.9" width="42.9" height="23.1"/>
  <rect x="430.3" y="723.3" width="28.2" height="23.2"/><rect x="686.1" y="723.3" width="28.8" height="23.2"/><rect x="719.6" y="723.3" width="26.7" height="23.2"/><rect x="927.1" y="723.3" width="28" height="23.2"/><rect x="1079.4" y="723.3" width="43.4" height="23.2"/>
  <rect x="430.3" y="756.3" width="28.2" height="23.2"/><rect x="463.2" y="756.3" width="26.2" height="23.2"/><rect x="591.2" y="756.3" width="28.8" height="23.2"/><rect x="1014.8" y="756.3" width="28.2" height="23.2"/>
</g>
<g font-size="14" fill="#ece8f2" text-anchor="middle">
  <text x="445.5" y="673.2">1</text><text x="477" y="673.2">14</text><text x="508.4" y="673.2">21</text><text x="540.4" y="673.2">3</text><text x="572.7" y="673.2">24</text><text x="601.2" y="673.2">5</text><text x="630.2" y="673.2">18</text><text x="665.9" y="673.2">11</text><text x="697.1" y="673.2">4</text><text x="730.1" y="673.2">13</text><text x="776.3" y="673.2">25</text><text x="812.3" y="673.2">8</text><text x="843.7" y="673.2">17</text><text x="876.7" y="673.2">4</text><text x="908.3" y="673.2">18</text><text x="939.3" y="673.2">18</text><text x="965.9" y="673.2">7</text><text x="995.9" y="673.2">18</text><text x="1027.5" y="673.2">16</text><text x="1059.9" y="673.2">19</text><text x="1093.3" y="673.2">26</text>
  <text x="475.9" y="706.5">12</text><text x="508" y="706.5">3</text><text x="541" y="706.5">20</text><text x="572.6" y="706.5">3</text><text x="605.6" y="706.5">15</text><text x="664.3" y="706.5">18</text><text x="697" y="706.5">2</text><text x="730" y="706.5">17</text><text x="785.6" y="706.5">46</text><text x="843.6" y="706.5">19</text><text x="933.4" y="706.5">21</text><text x="996.1" y="706.5">27</text><text x="1045.4" y="706.5">18</text><text x="1100.6" y="706.5">47</text>
  <text x="444.4" y="740">10</text><text x="496.1" y="740">46</text><text x="541.6" y="740">21</text><text x="573" y="740">4</text><text x="605.7" y="740">29</text><text x="640" y="740">25</text><text x="700.5" y="740">13</text><text x="733" y="740">2</text><text x="776.9" y="740">20</text><text x="820.5" y="740">100</text><text x="873.1" y="740">15</text><text x="909.5" y="740">10</text><text x="941.1" y="740">26</text><text x="995.8" y="740">36</text><text x="1048.3" y="740">47</text><text x="1101.1" y="740">3</text>
  <text x="444.4" y="773">21</text><text x="476.3" y="773">12</text><text x="508.8" y="773">18</text><text x="551" y="773">19</text><text x="605.6" y="773">15</text><text x="665.2" y="773">17</text><text x="699.8" y="773">21</text><text x="737.2" y="773">4</text><text x="778.5" y="773">25</text><text x="845.4" y="773">21</text><text x="875.9" y="773">8</text><text x="906.2" y="773">17</text><text x="958.6" y="773">47</text><text x="1028.9" y="773">20</text>
</g>
<g stroke="#8a9ab0" stroke-width="0.8" stroke-dasharray="3 3" opacity="0.6">
  <line x1="664" y1="650" x2="664" y2="787"/>
  <line x1="898.3" y1="650" x2="898.3" y2="787"/>
  <line x1="1135" y1="650" x2="1135" y2="787"/>
</g>
<line x1="425" y1="648" x2="425" y2="787.3" stroke="#5a6a80" stroke-width="1"/>
<line x1="425" y1="787.3" x2="1135" y2="787.3" stroke="#6a7a90" stroke-width="1.5"/>
<g font-size="13.5" fill="#a0aabb" text-anchor="middle">
  <text x="426" y="806">07:80</text><text x="505" y="806">12:50</text><text x="584" y="806">09:10</text><text x="662" y="806">02:00</text><text x="741" y="806">02:00</text><text x="820" y="806">09:30</text><text x="899" y="806">02:00</text><text x="978" y="806">01:00</text><text x="1057" y="806">02:10</text><text x="1135" y="806">04:50</text>
</g>

<!-- right panel -->
<rect x="1347.6" y="155.3" width="9.8" height="8.7" rx="1.5" fill="#9a6ae8"/>
<text x="1362.8" y="165" font-size="15" fill="#b0b8c8">遗漏号码</text>
<rect x="1438" y="155.3" width="8.8" height="8.7" rx="1.5" fill="#3e2c62"/>
<text x="1453.3" y="165" font-size="15" fill="#b0b8c8">遗漏分析</text>

<g stroke="#2e3c54" stroke-width="1">
  <line x1="1257.7" y1="180.8" x2="1506.3" y2="180.8"/><line x1="1257.7" y1="212.4" x2="1506.3" y2="212.4"/><line x1="1257.7" y1="244.25" x2="1506.3" y2="244.25"/><line x1="1257.7" y1="276.3" x2="1506.3" y2="276.3"/><line x1="1257.7" y1="308.4" x2="1506.3" y2="308.4"/>
  <line x1="1257.7" y1="396.2" x2="1506.3" y2="396.2"/><line x1="1257.7" y1="429.3" x2="1506.3" y2="429.3"/><line x1="1257.7" y1="462.4" x2="1506.3" y2="462.4"/><line x1="1257.7" y1="495.4" x2="1506.3" y2="495.4"/><line x1="1257.7" y1="528.5" x2="1506.3" y2="528.5"/>
  <line x1="1257.7" y1="618.2" x2="1506.3" y2="618.2"/><line x1="1257.7" y1="646.4" x2="1506.3" y2="646.4"/><line x1="1257.7" y1="674.7" x2="1506.3" y2="674.7"/><line x1="1257.7" y1="702.9" x2="1506.3" y2="702.9"/><line x1="1257.7" y1="731.1" x2="1506.3" y2="731.1"/><line x1="1257.7" y1="759.4" x2="1506.3" y2="759.4"/>
</g>
<g fill="url(#gPB)">
  <rect x="1267.75" y="230.5" width="11.3" height="109.5"/><rect x="1298.75" y="204.35" width="11.3" height="135.65"/><rect x="1329.65" y="261.7" width="11.3" height="78.3"/><rect x="1360.65" y="230.5" width="11.3" height="109.5"/><rect x="1391.65" y="285.7" width="11.3" height="54.3"/><rect x="1422.55" y="293.75" width="11.3" height="46.25"/><rect x="1453.55" y="242" width="11.3" height="98"/><rect x="1484.35" y="199.55" width="11.3" height="140.45"/>
  <rect x="1266.85" y="697.1" width="7.9" height="90.5"/><rect x="1291.45" y="704.3" width="7.9" height="83.3"/><rect x="1316.55" y="643.9" width="7.9" height="143.7"/><rect x="1341.45" y="729.4" width="7.9" height="58.2"/><rect x="1366.25" y="716.3" width="7.9" height="71.3"/><rect x="1391.55" y="707.1" width="7.9" height="80.5"/><rect x="1416.25" y="646.9" width="7.9" height="140.7"/><rect x="1441.05" y="672.2" width="7.9" height="115.4"/><rect x="1465.95" y="712.6" width="7.9" height="75"/><rect x="1491.25" y="713.7" width="7.9" height="73.9"/>
</g>
<g fill="url(#gGB)">
  <rect x="1266.85" y="534.9" width="7.9" height="26.8"/><rect x="1291.45" y="496" width="7.9" height="65.7"/><rect x="1316.15" y="521.3" width="7.9" height="40.4"/><rect x="1340.75" y="485.1" width="7.9" height="76.6"/><rect x="1365.65" y="515.7" width="7.9" height="46"/><rect x="1390.25" y="541.4" width="7.9" height="20.3"/><rect x="1414.65" y="416.5" width="7.9" height="145.2"/><rect x="1439.55" y="463.2" width="7.9" height="98.5"/><rect x="1464.15" y="415.9" width="7.9" height="145.8"/><rect x="1488.85" y="506.9" width="7.9" height="54.8"/>
</g>
<g stroke="#5a6a80" stroke-width="1">
  <line x1="1257.7" y1="180.8" x2="1257.7" y2="340"/>
  <line x1="1257.7" y1="396.2" x2="1257.7" y2="561.7"/>
  <line x1="1257.7" y1="618.2" x2="1257.7" y2="787.6"/>
</g>
<g stroke="#6a7a90" stroke-width="1.2">
  <line x1="1257.7" y1="340" x2="1506.3" y2="340"/>
  <line x1="1257.7" y1="561.7" x2="1506.3" y2="561.7"/>
  <line x1="1257.7" y1="787.6" x2="1506.3" y2="787.6"/>
</g>
<g font-size="13.5" fill="#a0aabb" text-anchor="end">
  <text x="1248.3" y="185.5">50</text><text x="1248.3" y="217.2">40</text><text x="1248.3" y="249">30</text><text x="1248.3" y="281">20</text><text x="1248.3" y="313.2">10</text><text x="1248.3" y="344.8">0</text>
  <text x="1248.3" y="401">25</text><text x="1248.3" y="434">20</text><text x="1248.3" y="467.2">15</text><text x="1248.3" y="500.2">10</text><text x="1248.3" y="533.3">5</text><text x="1248.3" y="566.5">0</text>
  <text x="1248.3" y="623">60</text><text x="1248.3" y="651.2">50</text><text x="1248.3" y="679.5">40</text><text x="1248.3" y="707.7">30</text><text x="1248.3" y="735.9">20</text><text x="1248.3" y="764.2">10</text><text x="1248.3" y="792.4">0</text>
</g>
<g font-size="13.5" fill="#a0aabb" text-anchor="middle">
  <text x="1273.4" y="359.5">15</text><text x="1304.4" y="359.5">16</text><text x="1335.3" y="359.5">17</text><text x="1366.3" y="359.5">19</text><text x="1397.3" y="359.5">21</text><text x="1428.2" y="359.5">23</text><text x="1459.2" y="359.5">25</text><text x="1490" y="359.5">36</text>
  <text x="1270.8" y="580.5">1</text><text x="1295.4" y="580.5">2</text><text x="1320.1" y="580.5">3</text><text x="1344.7" y="580.5">4</text><text x="1369.6" y="580.5">5</text><text x="1394.2" y="580.5">6</text><text x="1418.6" y="580.5">7</text><text x="1443.5" y="580.5">8</text><text x="1468.1" y="580.5">9</text><text x="1492.8" y="580.5">10</text>
  <text x="1270.8" y="806">1</text><text x="1295.4" y="806">2</text><text x="1320.5" y="806">3</text><text x="1345.4" y="806">4</text><text x="1370.2" y="806">5</text><text x="1395.5" y="806">6</text><text x="1420.2" y="806">17</text><text x="1445" y="806">18</text><text x="1469.9" y="806">19</text><text x="1495.2" y="806">10</text>
</g>

<!-- bottom decoration -->
<path d="M15,835.7 L30,851.8 L635,851.8 L652,835.7 L915,835.7 L932,851.8 L1535,851.8 L1550,835.7" fill="none" stroke="#34507a" stroke-width="1.2"/>
<path d="M648,853.7 L655,844.2 L910,844.2 L920,853.7" fill="none" stroke="#3a6a9a" stroke-width="1.2"/>
<rect x="430" y="843" width="208" height="4" fill="#2a3a54" opacity="0.7"/>
<rect x="930" y="843" width="205" height="4" fill="#2a3a54" opacity="0.7"/>
<ellipse cx="785" cy="844.2" rx="45" ry="4" fill="url(#cyanGlow)"/>
</svg>
</body></html>
